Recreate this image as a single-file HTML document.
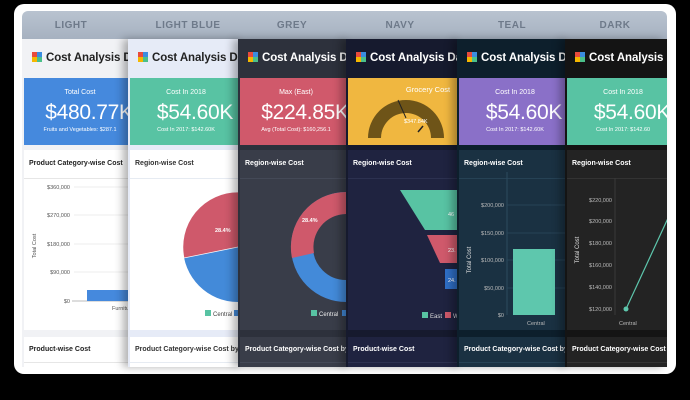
<!DOCTYPE html>
<html><head><meta charset="utf-8"><style>
*{margin:0;padding:0;box-sizing:border-box}
body{width:690px;height:400px;background:#000;position:relative;overflow:hidden;font-family:"Liberation Sans",Arial,sans-serif}
.frame{position:absolute;left:14px;top:4px;width:662px;height:370px;background:#fff;border-radius:10px}
.hdr{position:absolute;left:22px;top:11px;width:645px;height:28px;background:linear-gradient(#b9c3d0,#a6b1c0);border-radius:6px 6px 0 0}
.hl{position:absolute;top:20px;font-size:10px;font-weight:bold;color:#6e7a8a;letter-spacing:.5px;transform:translateX(-50%)}
.p{position:absolute;top:39px;height:328px;overflow:hidden}
.sh{box-shadow:-5px 0 8px rgba(0,0,0,.3)}
.t{position:absolute;left:10px;top:13px;font-size:11.5px;font-weight:bold;white-space:nowrap;letter-spacing:-.1px}
.logo{display:inline-block;width:10px;height:10px;vertical-align:-1px;margin-right:4px;background:linear-gradient(90deg,#e94b3c 0 50%,#3a8de0 50%) top/100% 50% no-repeat,linear-gradient(90deg,#f5b700 0 50%,#4bc08a 50%) bottom/100% 50% no-repeat}
.k{position:absolute;left:2px;top:39px;width:200px;height:67px;color:#fff}
.k .a{position:absolute;left:0;width:112px;top:11px;text-align:center;font-size:7px}
.k .b{position:absolute;left:0;width:130px;top:23px;text-align:center;font-size:21px;letter-spacing:-.3px}
.k .c{position:absolute;left:0;width:112px;top:49px;text-align:center;font-size:5.5px;white-space:nowrap}
.c1{position:absolute;left:2px;top:111px;width:200px;height:180px}
.c1 .ti{position:absolute;left:5px;top:10px;font-size:7px;font-weight:bold;white-space:nowrap}
.c1 .ln{position:absolute;left:0;top:28px;width:100%;height:1px}
.c2{position:absolute;left:2px;top:298px;width:200px;height:40px}
.c2 .ti{position:absolute;left:5px;top:9px;font-size:7px;font-weight:bold;white-space:nowrap}
.c2 .ln{position:absolute;left:0;top:25px;width:100%;height:1px}
svg{position:absolute;left:0;top:0}
</style></head><body>
<div class="frame"></div>
<div class="hdr"></div>
<div class="hl" style="left:71px">LIGHT</div>
<div class="hl" style="left:188px">LIGHT BLUE</div>
<div class="hl" style="left:292px">GREY</div>
<div class="hl" style="left:400px">NAVY</div>
<div class="hl" style="left:512px">TEAL</div>
<div class="hl" style="left:615px">DARK</div>

<!-- LIGHT -->
<div class="p" style="left:22px;width:110px;background:#f1f2f5">
 <div class="t" style="left:10px;color:#222"><span class="logo"></span>Cost Analysis D</div>
 <div class="k" style="background:#4589dd"><div class="a">Total Cost</div><div class="b">$480.77K</div><div class="c">Fruits and Vegetables: $287.1</div></div>
 <div class="c1" style="background:#fff"><div class="ti" style="color:#222">Product Category-wise Cost</div><div class="ln" style="background:#e6e6e6"></div>
  <svg width="110" height="180" style="left:0;top:0"><g font-size="5.5" fill="#555" text-anchor="end">
  <text x="46" y="39">$360,000</text><text x="46" y="67">$270,000</text><text x="46" y="96">$180,000</text><text x="46" y="124">$90,000</text><text x="46" y="153">$0</text></g>
  <g stroke="#eee"><line x1="50" y1="37" x2="110" y2="37"/><line x1="50" y1="65" x2="110" y2="65"/><line x1="50" y1="94" x2="110" y2="94"/><line x1="50" y1="122" x2="110" y2="122"/></g>
  <line x1="48" y1="151" x2="110" y2="151" stroke="#bbb"/>
  <rect x="63" y="140" width="50" height="11" fill="#4589dd"/>
  <text x="12" y="96" font-size="5.5" fill="#555" transform="rotate(-90 12 96)" text-anchor="middle">Total Cost</text>
  <text x="88" y="160" font-size="5.5" fill="#555">Furniture</text></svg></div>
 <div class="c2" style="background:#fff"><div class="ti" style="color:#222">Product-wise Cost</div><div class="ln" style="background:#e6e6e6"></div></div>
</div>

<!-- LIGHT BLUE -->
<div class="p sh" style="left:128px;width:114px;background:#e6ebf7">
 <div class="t" style="color:#222"><span class="logo"></span>Cost Analysis Da</div>
 <div class="k" style="background:#58c3a3"><div class="a">Cost In 2018</div><div class="b">$54.60K</div><div class="c">Cost In 2017: $142.60K</div></div>
 <div class="c1" style="background:#fff"><div class="ti" style="color:#333">Region-wise Cost</div><div class="ln" style="background:#e6ebf2"></div>
  <svg width="114" height="180"><circle cx="108" cy="97" r="55" fill="#438ad9"/>
  <path d="M108 97 L54 108 A55 55 0 0 1 108 42 A55 55 0 0 1 163 86 Z" fill="#cf596b" stroke="#fff" stroke-width=".7"/>
  <text x="85" y="82" font-size="5.5" fill="#fff" font-weight="bold">28.4%</text>
  <text x="108" y="130" font-size="5.5" fill="#fff">4</text>
  <rect x="75" y="160" width="6" height="6" fill="#58c3a3"/><text x="83" y="166" font-size="6" fill="#444">Central</text>
  <rect x="104" y="160" width="6" height="6" fill="#438ad9"/></svg></div>
 <div class="c2" style="background:#fff"><div class="ti" style="color:#333">Product Category-wise Cost by R</div><div class="ln" style="background:#e6ebf2"></div></div>
</div>

<!-- GREY -->
<div class="p sh" style="left:238px;width:112px;background:#2d313c">
 <div class="t" style="color:#fff"><span class="logo"></span>Cost Analysis D</div>
 <div class="k" style="background:#d0596b"><div class="a">Max (East)</div><div class="b">$224.85K</div><div class="c">Avg (Total Cost): $160,256.1</div></div>
 <div class="c1" style="background:#393d49"><div class="ti" style="color:#fff">Region-wise Cost</div><div class="ln" style="background:#444957"></div>
  <svg width="112" height="180"><circle cx="106" cy="97" r="44" fill="none" stroke="#438ad9" stroke-width="22"/>
  <path d="M52 108 A55 55 0 0 1 106 42 L106 64 A33 33 0 0 0 74 103 Z" fill="#cf596b"/>
  <text x="62" y="72" font-size="5.5" fill="#fff" font-weight="bold">28.4%</text>
  <rect x="71" y="160" width="6" height="6" fill="#58c3a3"/><text x="79" y="166" font-size="6" fill="#eee">Central</text>
  <rect x="102" y="160" width="6" height="6" fill="#438ad9"/></svg></div>
 <div class="c2" style="background:#393d49"><div class="ti" style="color:#fff">Product Category-wise Cost by R</div><div class="ln" style="background:#444957"></div></div>
</div>

<!-- NAVY -->
<div class="p sh" style="left:346px;width:115px;background:#161a2e">
 <div class="t" style="color:#fff"><span class="logo"></span>Cost Analysis Da</div>
 <div class="k" style="background:#f0b740"><div class="a" style="left:40px;width:80px;top:7px;font-size:7.5px">Grocery Cost</div>
  <svg width="112" height="67"><path d="M20 60 A38 38 0 0 1 96 60 L83 60 A25 25 0 0 0 33 60 Z" fill="#6e5418"/>
  <line x1="50" y1="22" x2="58" y2="40" stroke="#222" stroke-width="1"/><line x1="75" y1="48" x2="70" y2="54" stroke="#222" stroke-width="1.5"/>
  <text x="56" y="45" font-size="5.5" fill="#fff">$347.84K</text></svg></div>
 <div class="c1" style="background:#1f2340"><div class="ti" style="color:#fff">Region-wise Cost</div><div class="ln" style="background:#2c3150"></div>
  <svg width="115" height="180"><polygon points="52,40 110,40 110,80 77,80" fill="#58c3a3"/>
  <polygon points="79,85 110,85 110,113 92,113" fill="#cf596b"/>
  <polygon points="97,119 110,119 110,139 97,139" fill="#2f6fc7"/>
  <text x="100" y="66" font-size="5.5" fill="#fff">46</text><text x="100" y="102" font-size="5.5" fill="#fff">23.</text><text x="100" y="132" font-size="5.5" fill="#fff">24.</text>
  <rect x="74" y="162" width="6" height="6" fill="#58c3a3"/><text x="82" y="168" font-size="6" fill="#ddd">East</text>
  <rect x="97" y="162" width="6" height="6" fill="#cf596b"/><text x="105" y="168" font-size="6" fill="#ddd">W</text></svg></div>
 <div class="c2" style="background:#1f2340"><div class="ti" style="color:#fff">Product-wise Cost</div><div class="ln" style="background:#2c3150"></div></div>
</div>

<!-- TEAL -->
<div class="p sh" style="left:457px;width:112px;background:#0d1f2c">
 <div class="t" style="color:#fff"><span class="logo"></span>Cost Analysis Da</div>
 <div class="k" style="background:#8a70c8"><div class="a">Cost In 2018</div><div class="b">$54.60K</div><div class="c">Cost In 2017: $142.60K</div></div>
 <div class="c1" style="background:#1a3142"><div class="ti" style="color:#fff">Region-wise Cost</div><div class="ln" style="background:#264255"></div>
  <svg width="112" height="180"><g font-size="5.5" fill="#bbb" text-anchor="end">
  <text x="45" y="57">$200,000</text><text x="45" y="85">$150,000</text><text x="45" y="112">$100,000</text><text x="45" y="140">$50,000</text><text x="45" y="167">$0</text></g>
  <g stroke="#264255"><line x1="48" y1="55" x2="112" y2="55"/><line x1="48" y1="83" x2="112" y2="83"/><line x1="48" y1="110" x2="112" y2="110"/><line x1="48" y1="138" x2="112" y2="138"/></g>
  <line x1="48" y1="22" x2="48" y2="165" stroke="#2c4a5e"/>
  <rect x="54" y="99" width="42" height="66" fill="#5ec7ad"/>
  <text x="12" y="110" font-size="6" fill="#ddd" transform="rotate(-90 12 110)" text-anchor="middle">Total Cost</text>
  <text x="68" y="175" font-size="5.5" fill="#bbb">Central</text></svg></div>
 <div class="c2" style="background:#1a3142"><div class="ti" style="color:#fff">Product Category-wise Cost by R</div><div class="ln" style="background:#264255"></div></div>
</div>

<!-- DARK -->
<div class="p sh" style="left:565px;width:102px;background:#141414">
 <div class="t" style="color:#fff"><span class="logo"></span>Cost Analysis D</div>
 <div class="k" style="background:#58c3a3"><div class="a">Cost In 2018</div><div class="b">$54.60K</div><div class="c">Cost In 2017: $142.60</div></div>
 <div class="c1" style="background:#232323"><div class="ti" style="color:#fff">Region-wise Cost</div><div class="ln" style="background:#333"></div>
  <svg width="102" height="180"><g font-size="5.5" fill="#bbb" text-anchor="end">
  <text x="45" y="52">$220,000</text><text x="45" y="73">$200,000</text><text x="45" y="95">$180,000</text><text x="45" y="117">$160,000</text><text x="45" y="139">$140,000</text><text x="45" y="161">$120,000</text></g>
  <line x1="48" y1="28" x2="48" y2="165" stroke="#3a3a3a"/>
  <line x1="59" y1="159" x2="102" y2="66" stroke="#5ec7ad" stroke-width="1.2"/>
  <circle cx="59" cy="159" r="2.5" fill="#5ec7ad"/>
  <text x="12" y="100" font-size="6" fill="#ddd" transform="rotate(-90 12 100)" text-anchor="middle">Total Cost</text>
  <text x="52" y="175" font-size="5.5" fill="#bbb">Central</text></svg></div>
 <div class="c2" style="background:#232323"><div class="ti" style="color:#fff">Product Category-wise Cost by</div><div class="ln" style="background:#333"></div></div>
</div>
</body></html>
